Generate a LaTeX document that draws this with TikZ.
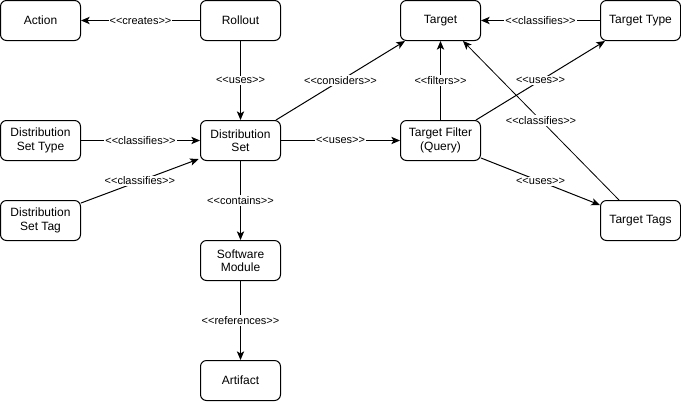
\documentclass[tikz,border=0pt]{standalone}
\usepackage{fontspec}
\setmainfont{Liberation Sans}[Ligatures=TeXOff]
\usetikzlibrary{arrows.meta}
\begin{document}
\begin{tikzpicture}[x=0.75pt,y=-0.75pt,
  box/.style={draw,line width=0.75pt,rounded corners=4.5pt,minimum width=60pt,minimum height=30pt,inner sep=0pt,align=center,font=\fontsize{9}{10}\selectfont},
  rel/.style={line width=0.75pt,-{Stealth[length=6.5pt,width=5.5pt,inset=1.6pt]}},
  thin rel/.style={line width=0.6pt,-{Stealth[length=6.5pt,width=5.5pt,inset=1.6pt]}},
  lbl/.style={fill=white,inner sep=0.8pt,font=\fontsize{8.25}{9}\selectfont}]
\useasboundingbox (0,0) rectangle (681,401);
\node[box] (action) at (40.5,20.5) {Action};
\node[box] (rollout) at (240.5,20.5) {Rollout};
\node[box] (target) at (440.5,20.5) {Target};
\node[box] (ttype) at (640.5,20.5) {Target Type};
\node[box] (dstype) at (40.5,140.5) {Distribution\\Set Type};
\node[box] (ds) at (240.5,140.5) {Distribution\\Set};
\node[box] (tf) at (440.5,140.5) {Target Filter\\(Query)};
\node[box] (dstag) at (40.5,220.5) {Distribution\\Set Tag};
\node[box] (ttags) at (640.5,220.5) {Target Tags};
\node[box] (sm) at (240.5,260.5) {Software\\Module};
\node[box] (art) at (240.5,380.5) {Artifact};

\draw[rel] (rollout) -- node[lbl]{<<creates>>} (action);
\draw[rel] (rollout) -- node[lbl]{<<uses>>} (ds);
\draw[rel] (dstype) -- node[lbl]{<<classifies>>} (ds);
\draw[rel] ([yshift=-2.25pt]dstag.north east) -- node[lbl]{<<classifies>>} ([xshift=-1pt,yshift=1.5pt]ds.south west);
\draw[rel] ([xshift=-3.75pt]ds.north east) -- node[lbl]{<<considers>>} ([xshift=3.75pt]target.south west);
\draw[rel] (ds) -- node[lbl]{<<uses>>} (tf);
\draw[rel] (ds) -- node[lbl]{<<contains>>} (sm);
\draw[rel] (sm) -- node[lbl]{<<references>>} (art);
\draw[rel] (tf) -- node[lbl]{<<filters>>} (target);
\draw[rel] (ttype) -- node[lbl]{<<classifies>>} (target);
\draw[rel] ([xshift=-3.75pt]tf.north east) -- node[lbl]{<<uses>>} ([xshift=3.75pt]ttype.south west);
\draw[thin rel] ([xshift=14.25pt]ttags.north west) -- node[lbl]{<<classifies>>} ([xshift=-13.5pt]target.south east);
\draw[rel] ([yshift=2.25pt]tf.south east) -- node[lbl]{<<uses>>} ([yshift=-3.75pt]ttags.north west);
\end{tikzpicture}
\end{document}
